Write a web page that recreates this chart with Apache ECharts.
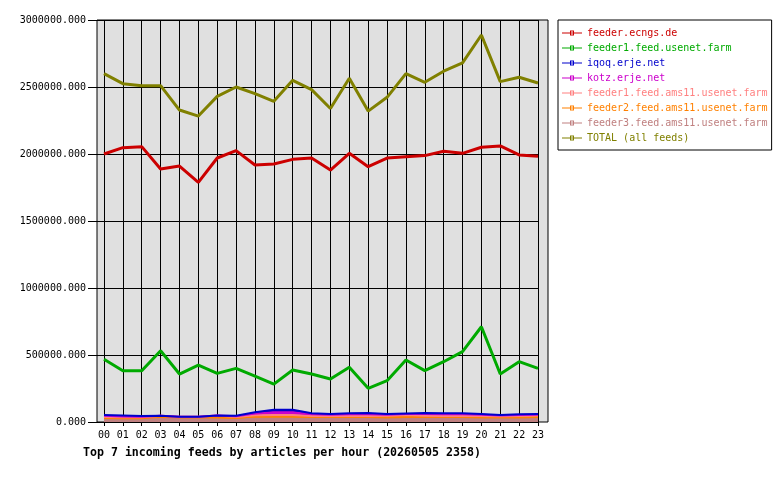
<!DOCTYPE html>
<html lang="en">
<head>
    <meta charset="UTF-8">
    <title>incoming feeds</title>
    <script src="https://cdn.jsdelivr.net/npm/echarts@6/dist/echarts.min.js"></script>
    <style>
        body { margin: 0; background: #fff; }
        #chart1 { width: 780px; height: 480px; }
    </style>
</head>
<body>
<div id="chart1"></div>
<script>
    // hours and per hour article counts
    var hours = ['00','01','02','03','04','05','06','07','08','09','10','11',
                 '12','13','14','15','16','17','18','19','20','21','22','23'];
    var ecngs = [2000000,2047000,2055000,1888000,1910000,1788000,1970000,2025000,1918000,1925000,1960000,1970000,
                 1880000,2005000,1905000,1970000,1980000,1988000,2020000,2005000,2050000,2060000,1993000,1983000];
    var feed1 = [468000,383000,383000,532000,358000,425000,363000,400000,343000,283000,388000,358000,
                 321000,408000,251000,308000,463000,383000,450000,525000,711000,358000,450000,400000];
    var iqoq = [6000,8000,5000,0,0,0,0,3000,10000,18000,18000,8000,
                5000,8000,10000,5000,4000,8000,8000,8000,5000,5000,5000,5000];
    var kotz = [8000,5000,3000,0,0,0,0,5000,12000,20000,20000,12000,
                10000,12000,12000,8000,8000,12000,12000,12000,10000,5000,8000,5000];
    var ams1 = [8000,8000,8000,5000,5000,5000,15000,8000,8000,8000,8000,8000,
                8000,8000,8000,12000,15000,10000,8000,8000,10000,8000,10000,12000];
    var ams2 = [10000,8000,10000,20000,15000,15000,12000,12000,18000,20000,20000,15000,
                15000,15000,15000,15000,15000,15000,15000,15000,15000,15000,15000,15000];
    var ams3 = [20000,20000,18000,22000,20000,20000,22000,18000,25000,25000,25000,22000,
                22000,22000,22000,20000,22000,22000,22000,22000,20000,20000,20000,22000];
    var total = [2600000,2525000,2510000,2510000,2328000,2283000,2430000,2500000,2450000,2393000,2550000,2480000,
                 2340000,2565000,2320000,2423000,2600000,2535000,2618000,2680000,2888000,2540000,2573000,2530000];

    var names = ['feeder.ecngs.de','feeder1.feed.usenet.farm','iqoq.erje.net','kotz.erje.net',
                 'feeder1.feed.ams11.usenet.farm','feeder2.feed.ams11.usenet.farm',
                 'feeder3.feed.ams11.usenet.farm','TOTAL (all feeds)'];
    var colors = ['#cc0000','#00aa00','#0000cc','#cc00cc','#ff8080','#ff8000','#c08080','#808000'];

    var mono = 'DejaVu Sans Mono';
    var icon = 'path://M0,2H20V3H0Z M8,0H12V1H8Z M8,4H12V5H8Z M8,0H9V5H8Z M11,0H12V5H11Z';

    function line(name, data, color, z) {
        return {name: name, type: 'line', data: data, xAxisIndex: 1, yAxisIndex: 1,
                symbol: 'none', z: z, lineStyle: {color: color, width: 3}, itemStyle: {color: color}};
    }
    function area(name, data, color) {
        return {name: name, type: 'line', data: data, xAxisIndex: 1, yAxisIndex: 1, stack: 'small',
                symbol: 'none', z: 3, lineStyle: {color: color, width: 2},
                areaStyle: {color: color, opacity: 1}, itemStyle: {color: color}};
    }

    var chart = echarts.init(document.getElementById('chart1'), null, {renderer: 'canvas'});
    var option = {
        animation: false,
        title: {
            text: 'Top 7 incoming feeds by articles per hour (20260505 2358)',
            left: 78, top: 442,
            textStyle: {fontFamily: mono, fontSize: 11.6, fontWeight: 'bold', color: '#000'}
        },
        legend: {
            orient: 'vertical', left: 558, top: 20,
            padding: [8, 4, 7, 4], itemGap: 5,
            borderColor: '#000', borderWidth: 1,
            itemWidth: 20, itemHeight: 5, icon: icon,
            textStyle: {fontFamily: mono, fontSize: 10},
            data: names.map(function (n, i) {
                return {name: n, icon: icon, textStyle: {color: colors[i]}};
            })
        },
        grid: [
            {left: 97, top: 20, width: 451, height: 402, show: true,
             backgroundColor: '#e0e0e0', borderColor: '#000', borderWidth: 1},
            {left: 104, top: 20, width: 434, height: 402}
        ],
        xAxis: [
            {gridIndex: 0, type: 'value', min: 0, max: 1, show: false},
            {gridIndex: 1, type: 'category', data: hours, boundaryGap: false,
             axisLine: {show: false},
             axisTick: {show: true, length: 4, lineStyle: {color: '#000'}},
             axisLabel: {fontFamily: mono, fontSize: 10, color: '#000', margin: 8, interval: 0},
             splitLine: {show: true, interval: 0, lineStyle: {color: '#000', width: 1}}}
        ],
        yAxis: [
            {gridIndex: 0, type: 'value', min: 0, max: 1, show: false},
            {gridIndex: 1, type: 'value', min: 0, max: 3000000, interval: 500000,
             axisLine: {show: false},
             axisTick: {show: true, length: 16, lineStyle: {color: '#000'}},
             axisLabel: {fontFamily: mono, fontSize: 10, color: '#000', margin: 18,
                         formatter: function (v) { return v.toFixed(3); }},
             splitLine: {show: true, lineStyle: {color: '#000', width: 1}}}
        ],
        series: [
            line(names[0], ecngs, colors[0], 5),
            line(names[1], feed1, colors[1], 5),
            area(names[6], ams3, colors[6]),
            area(names[5], ams2, colors[5]),
            area(names[4], ams1, colors[4]),
            area(names[3], kotz, colors[3]),
            area(names[2], iqoq, colors[2]),
            line(names[7], total, colors[7], 5)
        ]
    };
    chart.setOption(option);
</script>
</body>
</html>
